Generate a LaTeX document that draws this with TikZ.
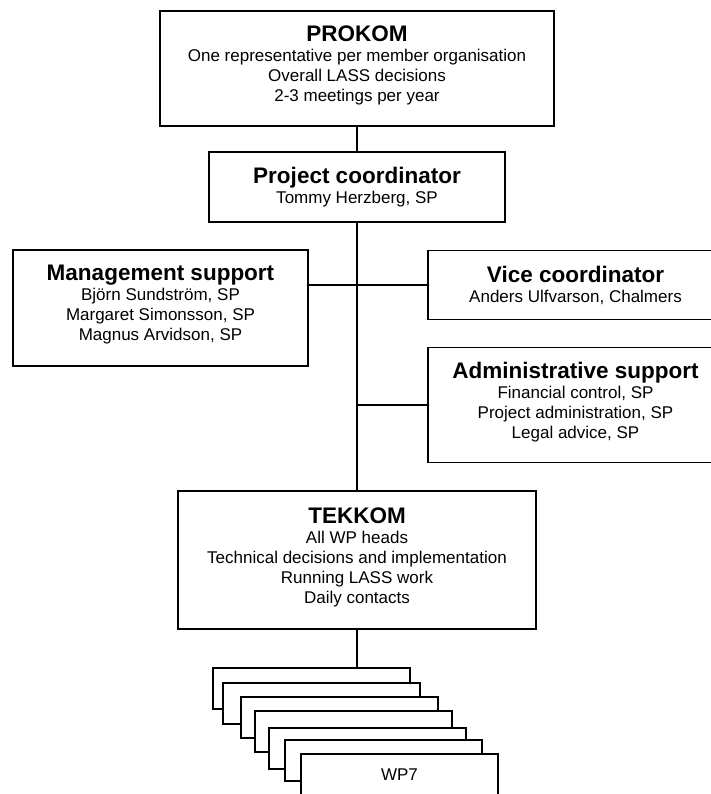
\documentclass[tikz,border=0pt]{standalone}
\usepackage{fontspec}
\setmainfont{Liberation Sans}
\newcommand{\ttl}[1]{{\fontsize{22.5}{20}\selectfont\bfseries #1}}
\newcommand{\lastpad}{\rule[-9.6pt]{0pt}{0pt}}
\tikzset{
  orgbox/.style={draw, line width=1.5pt, fill=white, align=center, inner sep=0pt,
    font=\fontsize{17}{20}\selectfont},
  conn/.style={line width=1.5pt},
  wpbox/.style={draw, line width=1.5pt, fill=white, inner sep=0pt,
    minimum width=197pt, minimum height=41pt, font=\fontsize{17}{20}\selectfont}
}
\begin{document}
\begin{tikzpicture}[x=1pt,y=-1pt]
\useasboundingbox[fill=white] (0,0) rectangle (711,794);
\clip (0,0) rectangle (711,794);
\node[orgbox, minimum width=394pt, minimum height=115pt] (prokom) at (357,68.5)
  {\ttl{PROKOM}\\One representative per member organisation\\Overall LASS decisions\\2-3 meetings per year\lastpad};
\node[orgbox, minimum width=296pt, minimum height=70pt] (pc) at (357,187)
  {\ttl{Project coordinator}\\Tommy Herzberg, SP};
\node[orgbox, minimum width=295pt, minimum height=116pt] (mgmt) at (160.5,308)
  {\ttl{Management support}\\Björn Sundström, SP\\Margaret Simonsson, SP\\Magnus Arvidson, SP\lastpad};
\node[orgbox, minimum width=295pt, minimum height=69pt] (vice) at (575.5,285)
  {\ttl{Vice coordinator}\\Anders Ulfvarson, Chalmers};
\node[orgbox, minimum width=295pt, minimum height=115pt] (admin) at (575.5,405)
  {\ttl{Administrative support}\\Financial control, SP\\Project administration, SP\\Legal advice, SP\lastpad};
\node[orgbox, minimum width=358pt, minimum height=138pt] (tek) at (357,560)
  {\ttl{TEKKOM}\\All WP heads\\Technical decisions and implementation\\Running LASS work\\Daily contacts\lastpad};
\draw[conn] (prokom.south) -- (pc.north);
\draw[conn] (pc.south) -- (tek.north);
\draw[conn] (mgmt.east |- vice.west) -- (vice.west);
\draw[conn] (admin.west -| pc.south) -- (admin.west);
\node[wpbox] (wp1) at (311.5,688.5) {};
\node[wpbox] (wp2) at (321.5,703.5) {};
\node[wpbox] (wp3) at (339.5,717.5) {};
\node[wpbox] (wp4) at (353.5,731.5) {};
\node[wpbox] (wp5) at (367.5,748.5) {};
\node[wpbox] (wp6) at (383.5,760.5) {};
\node[wpbox] (wp7) at (399.5,774.5) {WP7};
\draw[conn] (tek.south) -- (tek.south |- wp1.north);
\end{tikzpicture}
\end{document}
